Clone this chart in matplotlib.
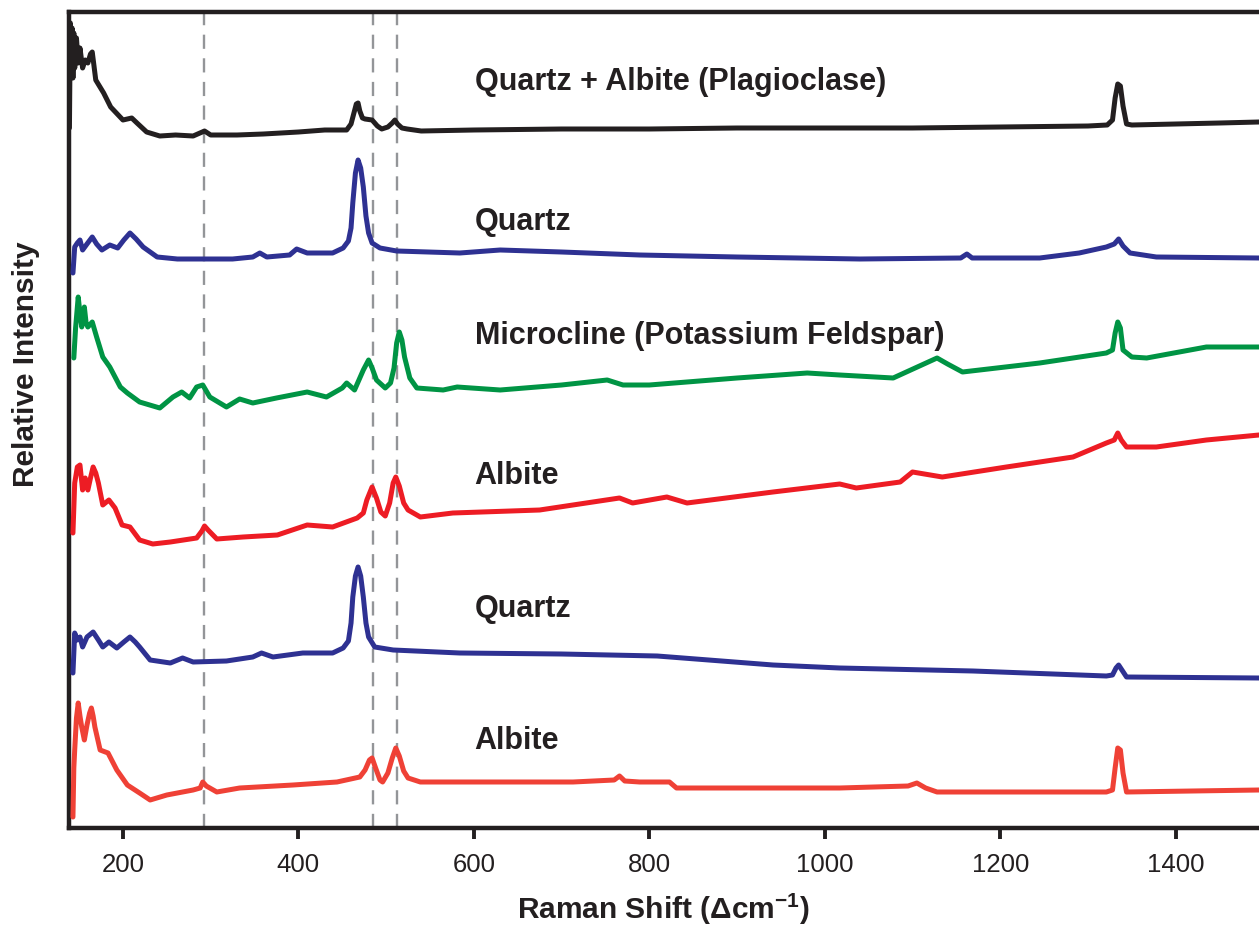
import matplotlib
matplotlib.use("Agg")
import matplotlib.pyplot as plt

plt.rcParams['font.family'] = ['Liberation Sans', 'DejaVu Sans']
plt.rcParams['mathtext.fontset'] = 'custom'
plt.rcParams['mathtext.rm'] = 'Liberation Sans'
plt.rcParams['mathtext.bf'] = 'Liberation Sans:bold'

# ---------------- data (Raman shift in cm-1, relative intensity, stacked) ----------------
qa_x = [139, 140, 141, 142, 143, 144, 145, 147, 149, 151, 154, 157, 160, 163, 165, 167, 169, 178, 186, 200,
        210, 216, 227, 242, 260, 280, 293, 300, 330, 360, 400, 430, 455, 460, 463, 466, 468, 470, 473, 476,
        484, 490, 495, 502, 507, 510, 513, 518, 524, 540, 600, 700, 800, 900, 1000, 1100, 1200, 1300, 1322,
        1328, 1331, 1334, 1337, 1340, 1344, 1350, 1400, 1450, 1495]
qa_y = [700, 805, 770, 800, 750, 795, 760, 790, 765, 780, 760, 768, 765, 774, 776, 762, 748, 735, 721, 708,
        710, 705, 696, 692, 693, 692, 697, 693, 693, 694, 696, 698, 698, 704, 714, 724, 725, 717, 710, 709,
        708, 702, 699, 701, 705, 708, 704, 700, 699, 697, 698, 699, 699, 700, 700, 700, 701, 702, 703,
        708, 730, 744, 742, 722, 704, 703, 704, 705, 706]

q1_x = [143, 145, 148, 151, 154, 159, 165, 170, 176, 185, 194, 201, 208, 215, 223, 239, 262, 291, 325, 348,
        356, 364, 390, 398, 410, 439, 451, 457, 460, 462, 465, 468, 471, 474, 477, 480, 484, 493, 512, 584,
        630, 700, 789, 900, 1040, 1155, 1162, 1168, 1245, 1290, 1321, 1330, 1335, 1340, 1348, 1378, 1495]
q1_y = [555, 581, 585, 588, 578, 584, 591, 584, 578, 583, 580, 588, 595, 589, 581, 571, 569, 569, 569, 571,
        575, 571, 573, 579, 575, 575, 580, 587, 600, 625, 655, 668, 660, 641, 612, 595, 585, 580, 577, 575,
        578, 576, 573, 571, 569, 570, 574, 570, 570, 575, 581, 584, 589, 582, 575, 571, 570]

mc_x = [144, 146, 149, 151, 153, 156, 158, 160, 165, 170, 177, 185, 197, 205, 219, 242, 257, 267, 276, 284,
        291, 299, 318, 333, 348, 375, 410, 432, 450, 455, 464, 470, 474, 480, 484, 489, 499, 505, 509, 512,
        515, 518, 521, 527, 535, 565, 581, 630, 700, 752, 770, 800, 900, 980, 1017, 1078, 1128, 1140, 1157,
        1245, 1321, 1328, 1331, 1334, 1337, 1340, 1350, 1367, 1435, 1495]
mc_y = [470, 500, 531, 515, 501, 521, 505, 501, 506, 491, 471, 461, 441, 435, 426, 420, 431, 436, 430, 441,
        443, 431, 421, 429, 425, 430, 436, 431, 440, 445, 438, 450, 458, 468, 460, 448, 440, 445, 460, 485,
        496, 488, 471, 450, 440, 438, 441, 438, 443, 448, 443, 443, 450, 455, 453, 450, 470, 464, 456,
        465, 475, 478, 495, 506, 500, 478, 471, 470, 481, 481]

ab1_x = [143, 145, 148, 151, 154, 157, 160, 163, 166, 169, 172, 177, 184, 191, 199, 208, 219, 234, 254, 284,
         290, 293, 297, 307, 337, 376, 410, 439, 467, 474, 478, 484, 489, 494, 499, 504, 508, 511, 515, 520,
         525, 539, 576, 675, 766, 781, 820, 843, 941, 1017, 1036, 1086, 1100, 1134, 1207, 1283, 1321, 1330,
         1334, 1338, 1344, 1378, 1435, 1495]
ab1_y = [295, 345, 361, 363, 338, 350, 338, 350, 361, 355, 345, 323, 328, 320, 303, 301, 288, 284, 286, 290,
         297, 302, 298, 289, 291, 293, 303, 301, 310, 315, 328, 341, 330, 316, 312, 325, 345, 351, 342, 325,
         318, 311, 315, 318, 330, 325, 331, 325, 336, 344, 340, 346, 356, 351, 361, 371, 385, 388,
         395, 388, 381, 381, 388, 393]

q2_x = [143, 145, 148, 151, 154, 159, 166, 172, 177, 184, 193, 201, 208, 214, 219, 231, 254, 268, 280, 318,
        348, 358, 371, 405, 439, 451, 457, 460, 462, 465, 468, 471, 474, 477, 480, 487, 508, 584, 700, 809,
        941, 1017, 1169, 1321, 1328, 1332, 1335, 1338, 1344, 1495]
q2_y = [155, 195, 188, 191, 181, 191, 196, 188, 181, 186, 180, 186, 191, 186, 181, 168, 165, 170, 166, 167,
        171, 175, 171, 175, 175, 180, 187, 205, 231, 252, 261, 252, 231, 205, 191, 181, 178, 175, 174, 172,
        163, 160, 157, 152, 153, 160, 163, 159, 151, 150]

ab2_x = [143, 144, 145, 147, 149, 151, 153, 156, 159, 162, 164, 166, 168, 174, 183, 193, 205, 219, 231, 250,
         280, 288, 291, 295, 307, 333, 394, 444, 470, 476, 481, 484, 488, 493, 496, 502, 507, 511, 515, 520,
         525, 539, 584, 713, 760, 766, 772, 789, 823, 831, 941, 1017, 1095, 1105, 1115, 1128, 1321, 1328,
         1331, 1334, 1337, 1340, 1344, 1495]
ab2_y = [11, 60, 78, 110, 125, 112, 101, 88, 103, 115, 120, 112, 101, 78, 75, 58, 43, 35, 28, 33,
         38, 40, 46, 42, 36, 40, 43, 46, 51, 58, 68, 70, 60, 48, 46, 55, 70, 80, 72, 57,
         50, 46, 46, 46, 48, 52, 47, 46, 46, 40, 40, 40, 42, 45, 40, 36, 36, 38,
         60, 80, 78, 55, 36, 38]

series = [
    (qa_x, qa_y, '#231f20', 'Quartz + Albite (Plagioclase)', 746),
    (q1_x, q1_y, '#2e3192', 'Quartz', 606),
    (mc_x, mc_y, '#009444', 'Microcline (Potassium Feldspar)', 492),
    (ab1_x, ab1_y, '#ed1c24', 'Albite', 352),
    (q2_x, q2_y, '#2e3192', 'Quartz', 219),
    (ab2_x, ab2_y, '#ef4136', 'Albite', 87),
]

dashed_x = [292, 485, 512]
xticks = [200, 400, 600, 800, 1000, 1200, 1400]

# ---------------- figure ----------------
fig = plt.figure(figsize=(12.59, 9.30), dpi=100)
ax = fig.add_axes([69 / 1259, 102 / 930, 1 - 69 / 1259, (828 - 12) / 930])

for xv in dashed_x:
    ax.axvline(xv, color='#939598', lw=1.7, ls=(0, (6, 4)), zorder=1)

for xs, ys, col, label, ly in series:
    ax.plot(xs, ys, color=col, lw=3.6, solid_joinstyle='round', solid_capstyle='round', zorder=3)
    ax.text(601, ly, label, fontsize=22, fontweight='bold', color='#231f20',
            ha='left', va='center', zorder=4)

ax.set_xlim(138.5, 1495)
ax.set_ylim(0, 816)
ax.set_xticks(xticks)
ax.set_yticks([])
ax.tick_params(axis='x', direction='out', length=8, width=2.8, labelsize=18.5,
               colors='#231f20', pad=10)
for s in ['left', 'bottom', 'top']:
    ax.spines[s].set_linewidth(3.2)
    ax.spines[s].set_color('#231f20')
ax.spines['right'].set_visible(False)

fig.text(0.527, 0.022, r'Raman Shift (Δcm$^{\mathbf{-1}}$)', fontsize=21.5, fontweight='bold',
         color='#231f20', ha='center', va='center')
fig.text(0.021, 0.608, 'Relative Intensity', fontsize=21.5, fontweight='bold', color='#231f20',
         rotation=90, ha='center', va='center')

fig.savefig('out.png', dpi=100)
